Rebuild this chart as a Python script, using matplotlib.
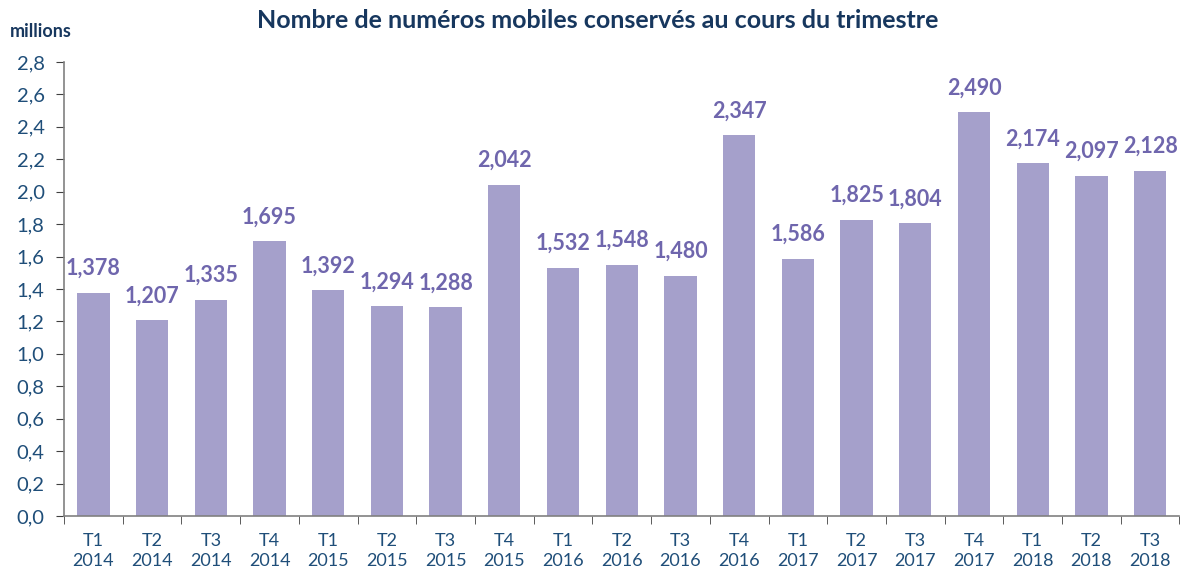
import numpy as np
import matplotlib.pyplot as plt

plt.rcParams['font.family'] = ['Lato', 'DejaVu Sans']

quarters = ["T1", "T2", "T3", "T4", "T1", "T2", "T3", "T4", "T1", "T2", "T3", "T4",
            "T1", "T2", "T3", "T4", "T1", "T2", "T3"]
years = ["2014"] * 4 + ["2015"] * 4 + ["2016"] * 4 + ["2017"] * 4 + ["2018"] * 3
values = [1.378, 1.207, 1.335, 1.695, 1.392, 1.294, 1.288, 2.042, 1.532, 1.548,
          1.480, 2.347, 1.586, 1.825, 1.804, 2.490, 2.174, 2.097, 2.128]

navy = "#1F4E79"
title_col = "#17375E"
bar_col = "#A5A0CB"
lab_col = "#6F66AD"

fig = plt.figure(figsize=(11.95, 5.79), dpi=100)
ax = fig.add_axes([0.0536, 0.1088, 0.9334, 0.7842])

x = np.arange(len(values))
ax.bar(x, values, width=0.55, color=bar_col)
for xi, v in zip(x, values):
    ax.annotate(("%.3f" % v).replace(".", ","), (xi, v), xytext=(0, 10),
                textcoords="offset points", ha="center", va="bottom",
                fontsize=15.5, fontweight="bold", color=lab_col)

ax.set_xlim(-0.5, len(values) - 0.5)
ax.set_ylim(0, 2.8)
yt = np.arange(0, 2.81, 0.2)
ax.set_yticks(yt)
ax.set_yticklabels([("%.1f" % t).replace(".", ",") for t in yt], fontsize=14.5, color=navy)

ax.set_xticks(x)
ax.set_xticklabels([q + "\n" + y for q, y in zip(quarters, years)], fontsize=13,
                   color=navy, linespacing=1.35)
ax.tick_params(axis="x", which="major", length=0, pad=12)
ax.set_xticks(np.arange(-0.5, len(values), 1), minor=True)
ax.tick_params(axis="x", which="minor", length=6, direction="out", color="#404040")
ax.tick_params(axis="y", length=6, direction="out", color="#404040", pad=8)

for s in ["top", "right"]:
    ax.spines[s].set_visible(False)
for s in ["left", "bottom"]:
    ax.spines[s].set_color("#808080")
    ax.spines[s].set_linewidth(1.2)

fig.text(0.5, 0.965, "Nombre de numéros mobiles conservés au cours du trimestre",
         ha="center", va="center", fontsize=18, fontweight="bold", color=title_col)
fig.text(0.008, 0.945, "millions", ha="left", va="center", fontsize=13,
         fontweight="bold", color=title_col)

fig.savefig("out.png", dpi=100)
